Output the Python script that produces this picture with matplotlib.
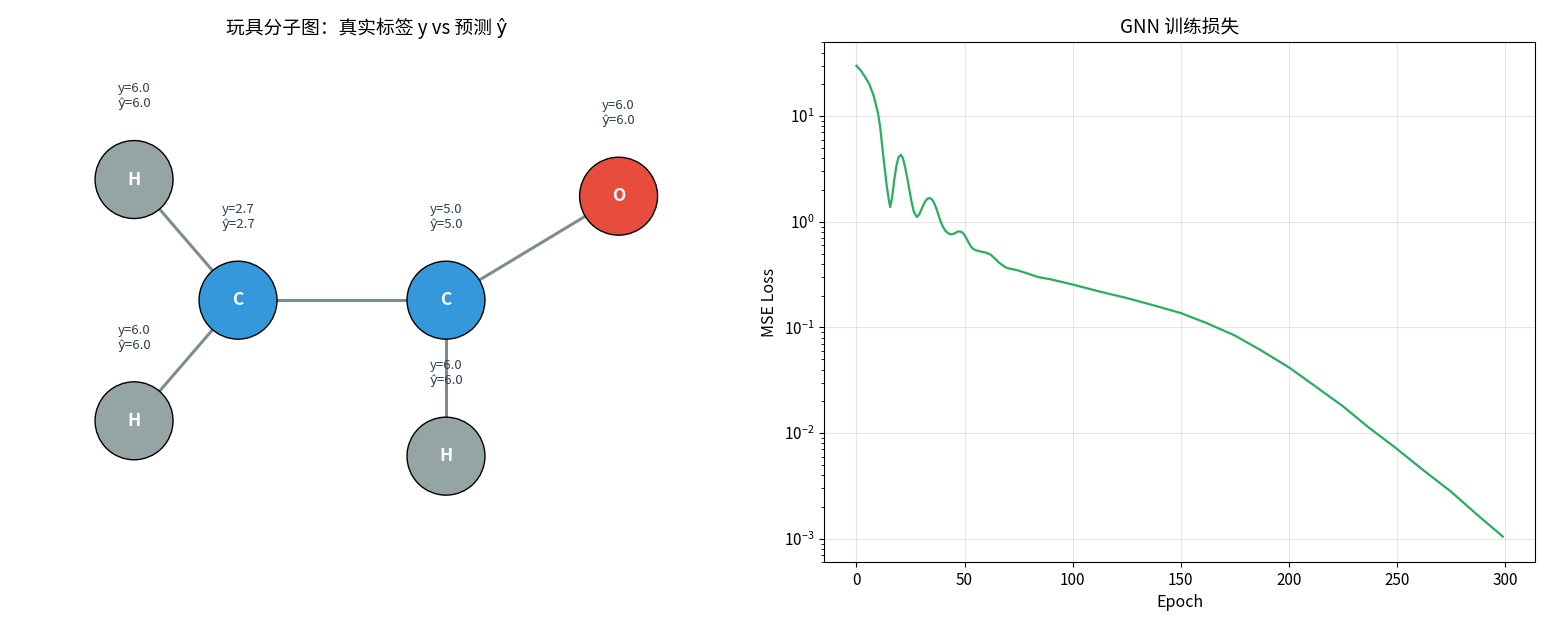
import matplotlib
matplotlib.use("Agg")
import matplotlib.pyplot as plt
import numpy as np

plt.rcParams['font.family'] = ['Noto Sans CJK SC', 'DejaVu Sans']
plt.rcParams['axes.unicode_minus'] = False

# ---- data ----
atoms = ['C', 'C', 'O', 'H', 'H', 'H']
pos_x = [0.0, 1.0, 1.83, -0.5, -0.5, 1.0]
pos_y = [0.0, 0.0, 0.50, 0.58, -0.58, -0.75]
bonds = [(0, 1), (1, 2), (0, 3), (0, 4), (1, 5)]
y_true = [2.7, 5.0, 6.0, 6.0, 6.0, 6.0]
y_pred = [2.7, 5.0, 6.0, 6.0, 6.0, 6.0]
atom_colors = {'C': '#3498db', 'O': '#e74c3c', 'H': '#95a5a6'}

epochs = [0, 2, 4, 6, 8, 10, 11, 12, 13, 14, 15, 15.6, 16.5, 17.5, 18.5, 19.5, 20.6, 21.5, 22.5,
          23.5, 24.5, 25.5, 26.5, 27.9, 29, 30, 31, 32, 33, 33.9, 35, 36, 37, 38, 39, 40, 41,
          42, 43.5, 45, 46, 47, 48, 49, 50, 51, 52, 53, 54, 55, 57, 60, 62, 64, 66, 69,
          71, 74, 78, 84, 90, 100, 112, 125, 137, 150, 162, 175, 187, 200, 212, 225, 237,
          250, 262, 275, 287, 299]
loss = [30, 27, 23.5, 20, 15.5, 10.6, 7.8, 5.0, 3.3, 2.2, 1.6, 1.38, 1.7, 2.5, 3.4, 4.1, 4.3,
        4.0, 3.3, 2.6, 2.0, 1.55, 1.25, 1.11, 1.17, 1.3, 1.45, 1.58, 1.66, 1.68, 1.62, 1.5,
        1.33, 1.15, 1.0, 0.9, 0.83, 0.79, 0.76, 0.77, 0.79, 0.81, 0.81, 0.79, 0.75, 0.69,
        0.63, 0.58, 0.555, 0.54, 0.525, 0.51, 0.49, 0.45, 0.41, 0.37, 0.36, 0.35, 0.33,
        0.30, 0.285, 0.255, 0.22, 0.19, 0.163, 0.137, 0.11, 0.084, 0.061, 0.042, 0.028,
        0.018, 0.0113, 0.0071, 0.0045, 0.0028, 0.0017, 0.00105]

fig = plt.figure(figsize=(15.46, 6.31), dpi=100)
ax1 = fig.add_axes([0.013, 0.109, 0.449, 0.824])
ax2 = fig.add_axes([0.533, 0.109, 0.460, 0.824])

# ---- molecule ----
for a, b in bonds:
    ax1.plot([pos_x[a], pos_x[b]], [pos_y[a], pos_y[b]], color='#7f8c8d', lw=2.2, zorder=1)
ax1.scatter(pos_x, pos_y, s=3150, c=[atom_colors[a] for a in atoms],
            edgecolors='black', linewidths=1, zorder=2)
for i, a in enumerate(atoms):
    ax1.text(pos_x[i], pos_y[i], a, ha='center', va='center', color='white',
             fontsize=12.5, fontweight='bold', zorder=3)
    ax1.text(pos_x[i], pos_y[i] + 0.40, f"y={y_true[i]:.1f}\nŷ={y_pred[i]:.1f}",
             ha='center', va='center', fontsize=9.5, color='#2c3e50', zorder=3)
ax1.set_xlim(-1.048, 2.29)
ax1.set_ylim(-1.26, 1.24)
ax1.axis('off')
ax1.set_title('玩具分子图：真实标签 y vs 预测 ŷ', fontsize=13.5)

# ---- loss ----
ax2.plot(epochs, loss, color='#27ae60', lw=1.6)
ax2.set_yscale('log')
ax2.set_ylim(6e-4, 50)
ax2.set_xlim(-15, 314)
ax2.grid(True, alpha=0.3)
ax2.set_xlabel('Epoch', fontsize=11.5)
ax2.set_ylabel('MSE Loss', fontsize=11.5)
ax2.set_title('GNN 训练损失', fontsize=13.5)
ax2.tick_params(labelsize=11)

fig.savefig('out.png', dpi=100)
